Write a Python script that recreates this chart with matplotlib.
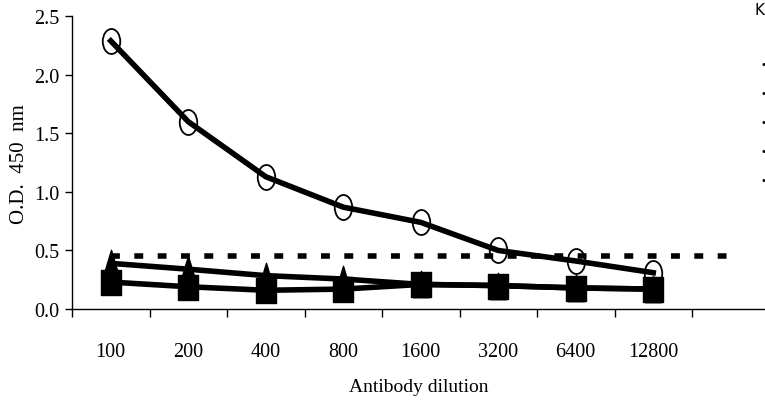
import numpy as np
import matplotlib
matplotlib.use('Agg')
import matplotlib.pyplot as plt
from matplotlib.path import Path

# data
dilutions = ['100', '200', '400', '800', '1600', '3200', '6400', '12800']
od_circle = [2.29, 1.60, 1.13, 0.87, 0.74, 0.50, 0.41, 0.31]
od_triangle = [0.39, 0.34, 0.285, 0.256, 0.21, 0.20, 0.18, 0.17]
od_square = [0.23, 0.19, 0.16, 0.17, 0.21, 0.20, 0.18, 0.17]
cutoff = 0.45

plt.rcParams['font.family'] = ['Liberation Serif', 'DejaVu Serif']

# tall, narrow marker shapes as in the original
ellipse = Path.unit_circle().transformed(matplotlib.transforms.Affine2D().scale(0.7, 1.0))
rect = Path([(-0.4, -0.5), (0.4, -0.5), (0.4, 0.5), (-0.4, 0.5), (-0.4, -0.5)],
            [Path.MOVETO, Path.LINETO, Path.LINETO, Path.LINETO, Path.CLOSEPOLY])
tri = Path([(-0.3, -0.5), (0.3, -0.5), (0.0, 0.5), (-0.3, -0.5)],
           [Path.MOVETO, Path.LINETO, Path.LINETO, Path.CLOSEPOLY])

fig = plt.figure(figsize=(7.65, 4.02), dpi=100)
ax = fig.add_axes([72/765, 1 - 310/402, 1 - 72/765, (310 - 17.3)/402])

x = np.arange(len(dilutions))

# cut-off line
ax.plot([0, len(dilutions)], [cutoff, cutoff], color='black', lw=4,
        linestyle=(0, (1.6, 2.6)), dash_capstyle='butt', zorder=2)

ax.plot(x, od_triangle, color='black', lw=4, marker=tri, ms=19, zorder=3)
ax.plot(x, od_square, color='black', lw=4, marker=rect, ms=18, zorder=4)
ax.plot(x, od_circle, color='black', lw=4, marker=ellipse, ms=18,
        mfc='none', mec='black', mew=1.3, zorder=5)

ax.set_xlim(-0.5, (765 - 72)/77.5 - 0.5)
ax.set_ylim(0, 2.5)

# ticks on category boundaries, labels at centres
ax.set_xticks(np.arange(-0.5, len(dilutions), 1.0))
ax.set_xticklabels([])
ax.set_xticks(x, minor=True)
ax.set_xticklabels(dilutions, minor=True)
ax.tick_params(axis='x', which='major', direction='out', length=6, width=1)
ax.tick_params(axis='x', which='minor', length=0, pad=24, labelsize=14.5)

ax.set_yticks(np.arange(0, 2.51, 0.5))
ax.set_yticklabels(['%.1f' % v for v in np.arange(0, 2.51, 0.5)])
ax.tick_params(axis='y', direction='out', length=5, width=1, pad=4, labelsize=14.5)

ax.spines['top'].set_visible(False)
ax.spines['right'].set_visible(False)
ax.spines['left'].set_linewidth(1)
ax.spines['bottom'].set_linewidth(1)

ax.set_xlabel('Antibody dilution', fontsize=14, labelpad=12)
ax.set_ylabel('O.D.  450  nm', fontsize=15, labelpad=4)

# legend cut off at the right edge of the picture
fig.text(755/765, 1 - 3/402, 'K', fontsize=11, family='DejaVu Sans',
         ha='left', va='top')
for yy in [65, 94, 123, 152, 181]:
    fig.text(760/765, 1 - yy/402, '\u2022', fontsize=7, family='DejaVu Sans',
             ha='left', va='center')

fig.savefig('out.png', dpi=100)
